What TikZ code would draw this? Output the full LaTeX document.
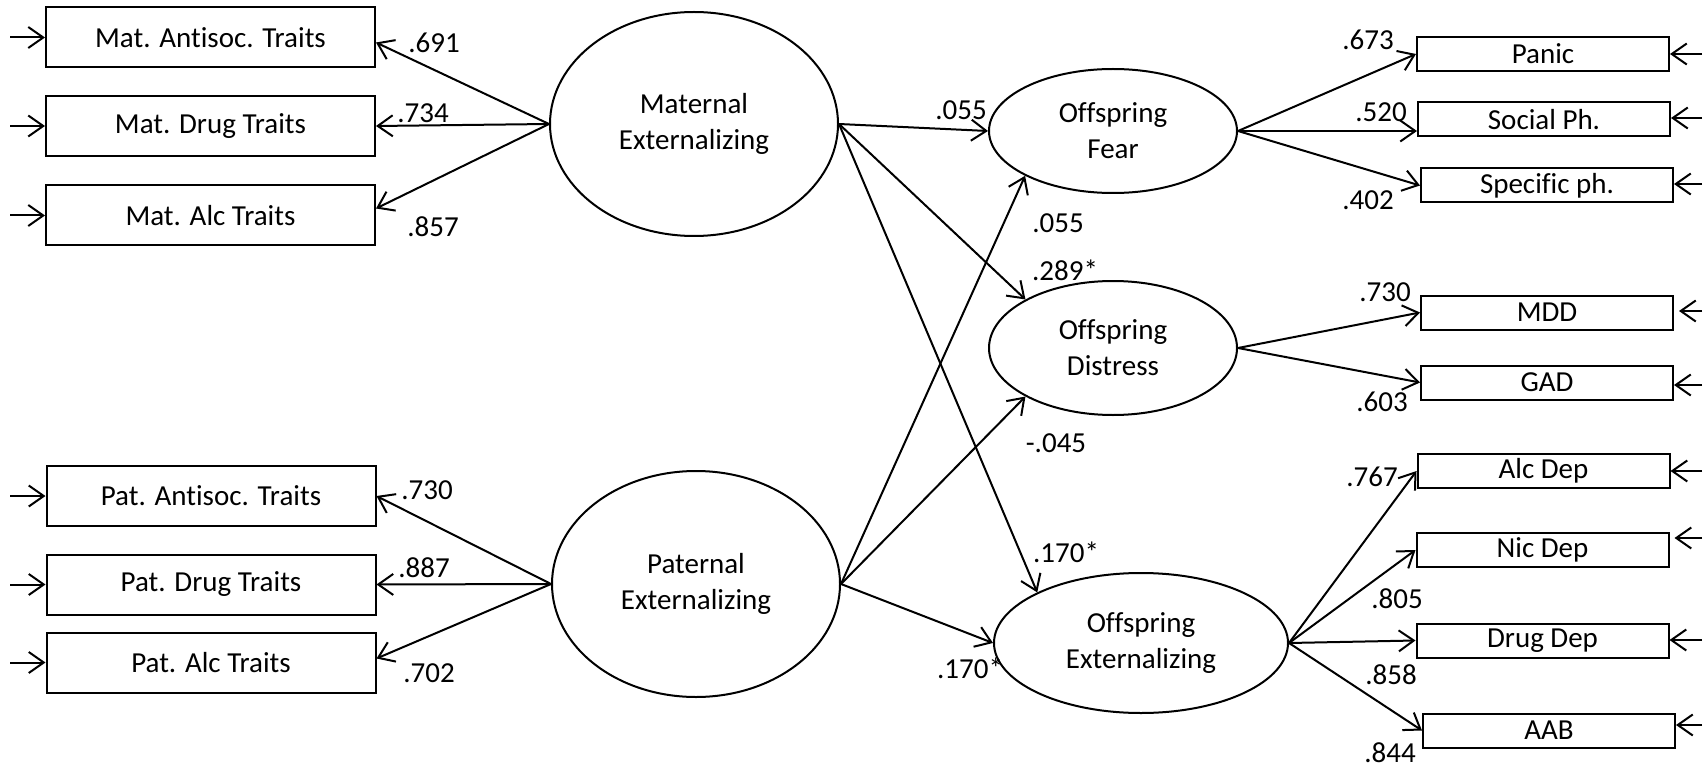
\documentclass[tikz,border=0pt]{standalone}
\usepackage{fontspec}
\setmainfont[Ligatures=NoCommon]{Carlito}
\usetikzlibrary{arrows.meta,shapes.geometric}
\begin{document}
\begin{tikzpicture}[x=1pt,y=-1pt, line width=2pt,
  >={Straight Barb[length=15pt,width=21pt]},
  every node/.style={font=\fontsize{29}{36}\selectfont},
  lbox/.style={draw, rectangle, minimum width=329pt, minimum height=60pt, inner sep=0pt},
  rbox/.style={draw, rectangle, minimum width=252pt, minimum height=34pt, inner sep=0pt},
  latent/.style={draw, ellipse, inner sep=0pt, align=center},
  coef/.style={inner sep=0pt}]
\useasboundingbox (0,0) rectangle (1707,767);

% observed indicators, left
\node[lbox] (mantis) at (210.5,37.5) {Mat. Antisoc. Traits};
\node[lbox] (mdrug) at (210.5,126) {Mat. Drug Traits};
\node[lbox] (malc) at (210.5,215.5) {Mat. Alc Traits};
\node[lbox] (pantis) at (211,496) {Pat. Antisoc. Traits};
\node[lbox] (pdrug) at (211,584.5) {Pat. Drug Traits};
\node[lbox] (palc) at (211,662.5) {Pat. Alc Traits};

% latent variables
\node[latent, minimum width=288pt, minimum height=224pt] (mat) at (694,124) {Maternal\\Externalizing};
\node[latent, minimum width=288pt, minimum height=226pt] (pat) at (696,584) {Paternal\\Externalizing};
\node[latent, minimum width=248pt, minimum height=124pt] (fear) at (1113,131) {Offspring\\Fear};
\node[latent, minimum width=248pt, minimum height=134pt] (dis) at (1113,348) {Offspring\\Distress};
\node[latent, minimum width=294pt, minimum height=140pt] (ext) at (1141,643) {Offspring\\Externalizing};

% observed indicators, right
\node[rbox] (panic) at (1543,54) {Panic};
\node[rbox] (social) at (1544,119.5) {Social Ph.};
\node[rbox] (spec) at (1547,185.5) {Specific ph.};
\node[rbox] (mdd) at (1547,312.5) {MDD};
\node[rbox] (gad) at (1547,382.5) {GAD};
\node[rbox] (alcdep) at (1543.5,471) {Alc Dep};
\node[rbox] (nicdep) at (1542.5,550) {Nic Dep};
\node[rbox] (drugdep) at (1542.5,640.5) {Drug Dep};
\node[rbox] (aab) at (1549,730.5) {AAB};

% residual arrow origins
\coordinate (lr1) at (10,37.5);
\coordinate (lr2) at (10,126);
\coordinate (lr3) at (10,215.5);
\coordinate (lr4) at (10,496);
\coordinate (lr5) at (10,584.5);
\coordinate (lr6) at (10,662.5);
\coordinate (rr1) at (1702,54);
\coordinate (rr2) at (1702,118);
\coordinate (rr3) at (1702,184);
\coordinate (rr4) at (1702,311);
\coordinate (rr5) at (1702,385);
\coordinate (rr6) at (1702,471);
\coordinate (rr7) at (1702,538);
\coordinate (rr8) at (1702,640);
\coordinate (rr9) at (1702,725);

\draw[->] (lr1) -- (mantis.west);
\draw[->] (lr2) -- (mdrug.west);
\draw[->] (lr3) -- (malc.west);
\draw[->] (lr4) -- (pantis.west);
\draw[->] (lr5) -- (pdrug.west);
\draw[->] (lr6) -- (palc.west);

\draw[->] (rr1) -- (panic.east |- rr1);
\draw[->] (rr2) -- (social.east |- rr2);
\draw[->] (rr3) -- (spec.east |- rr3);
\draw[->, shorten >=5pt] (rr4) -- (mdd.east |- rr4);
\draw[->] (rr5) -- (gad.east |- rr5);
\draw[->] (rr6) -- (alcdep.east |- rr6);
\draw[->, shorten >=5pt] (rr7) -- (nicdep.east |- rr7);
\draw[->] (rr8) -- (drugdep.east |- rr8);
\draw[->] (rr9) -- (aab.east |- rr9);

% loadings, parents
\draw[->] (mat.west) -- ([yshift=-5pt]mantis.east);
\draw[->] (mat.west) -- (mdrug.east);
\draw[->] (mat.west) -- ([yshift=7pt]malc.east);
\draw[->] (pat.west) -- (pantis.east);
\draw[->] (pat.west) -- (pdrug.east);
\draw[->] (pat.west) -- ([yshift=4pt]palc.east);

% structural paths
\draw[->] (mat.east) -- (fear.west);
\draw[->] (mat.east) -- (dis.151);
\draw[->] (mat.east) -- (ext.154);
\draw[->] (pat.east) -- (fear.207);
\draw[->] (pat.east) -- (dis.209);
\draw[->] (pat.east) -- (ext.west);

% loadings, offspring
\draw[->] (fear.east) -- (panic.west);
\draw[->] (fear.east) -- (social.west |- fear.east);
\draw[->] (fear.east) -- (spec.west);
\draw[->] (dis.east) -- (mdd.west);
\draw[->] (dis.east) -- (gad.west);
\draw[->] (ext.east) -- (alcdep.west);
\draw[->] (ext.east) -- (nicdep.west);
\draw[->] (ext.east) -- (drugdep.west);
\draw[->] (ext.east) -- (aab.west);

% coefficients
\node[coef] (c1) at (434,43) {.691};
\node[coef] (c2) at (423,113) {.734};
\node[coef] (c3) at (433,227) {.857};
\node[coef] (c4) at (427,490) {.730};
\node[coef] (c5) at (424,568) {.887};
\node[coef] (c6) at (429,673) {.702};
\node[coef] (c7) at (961,110) {.055};
\node[coef] (c8) at (1058,223) {.055};
\node[coef] (c9) at (1065,270) {.289*};
\node[coef] (c10) at (1056,443) {-.045};
\node[coef] (c11) at (1066,552) {.170*};
\node[coef] (c12) at (970,668) {.170*};
\node[coef] (c13) at (1368,40) {.673};
\node[coef] (c14) at (1381,112) {.520};
\node[coef] (c15) at (1368,200) {.402};
\node[coef] (c16) at (1385,292) {.730};
\node[coef] (c17) at (1382,402) {.603};
\node[coef] (c18) at (1372,477) {.767};
\node[coef] (c19) at (1397,599) {.805};
\node[coef] (c20) at (1391,675) {.858};
\node[coef] (c21) at (1390,753) {.844};
\end{tikzpicture}
\end{document}
